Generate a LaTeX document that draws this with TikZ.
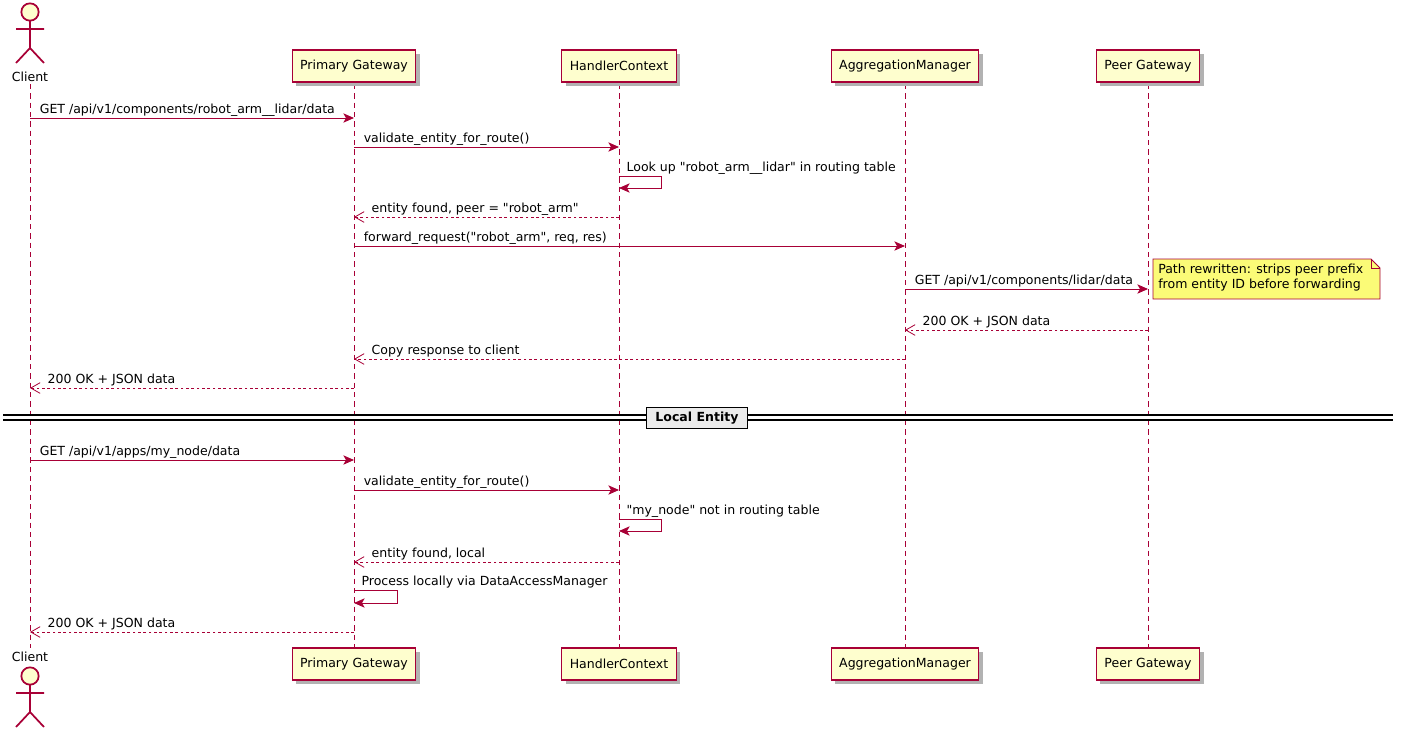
\documentclass[tikz,border=0pt]{standalone}
\usepackage{fontspec}
\setmainfont{DejaVu Sans}[Ligatures=TeXOff]
\usetikzlibrary{arrows.meta,shadows}
\definecolor{pr}{HTML}{A80036}
\definecolor{bx}{HTML}{FEFECE}
\definecolor{nt}{HTML}{FBFB77}
\newcommand{\qq}{\symbol{34}}
\begin{document}
\begin{tikzpicture}[x=0.75pt,y=-0.75pt,
  font=\fontsize{9.4}{11}\selectfont,
  part/.style={draw=pr,fill=bx,line width=0.8pt,minimum height=24pt,inner xsep=6pt,drop shadow={shadow xshift=3pt,shadow yshift=-3pt,fill=black!30,opacity=1}},
  life/.style={draw=pr,line width=0.5pt,dash pattern=on 4pt off 3pt},
  msg/.style={draw=pr,line width=0.7pt,-{Stealth[length=8pt,width=7pt,inset=2pt]}},
  ret/.style={draw=pr,line width=0.6pt,dash pattern=on 2pt off 2pt,-{Straight Barb[length=7pt,width=8pt]}},
  lbl/.style={anchor=south west,inner sep=1pt}]
\useasboundingbox (0,0) rectangle (1403,736);
% lifelines
\foreach \x in {30,354,619,905,1148} \draw[life] (\x,84) -- (\x,648);
% participant boxes
\foreach \y/\s in {66/t,664/b}{
\node[part] (pg\s) at (354,\y) {Primary Gateway};
\node[part] (hc\s) at (619,\y) {HandlerContext};
\node[part] (am\s) at (905,\y) {AggregationManager};
\node[part] (pe\s) at (1148,\y) {Peer Gateway};}
% actors
\tikzset{actor/.pic={
 \draw[pr,fill=bx,line width=1.3pt] (0,0) circle (6.5pt);
 \draw[pr,line width=1.3pt] (0,9) -- (0,36) (-14,17) -- (14,17) (-14,51) -- (0,36) -- (14,51);}}
\pic at (30,12) {actor};
\pic at (30,676) {actor};
\node (ct) at (30,77) {Client};
\node (cb) at (30,657) {Client};
% coordinates
\foreach \n/\x in {c/30,p/354,h/619,a/905,g/1148}{
 \foreach \y in {118,147,176,188,217,246,289,330,359,388,460,490,519,531,562,590,603,632}{
  \coordinate (\n\y) at (\x,\y);}}
\coordinate (hs1) at (661,176); \coordinate (hs2) at (661,188);
\coordinate (hs3) at (661,519); \coordinate (hs4) at (661,531);
\coordinate (ps1) at (397,590); \coordinate (ps2) at (397,603);
% messages
\draw[msg] (c118) -- node[lbl,pos=0,xshift=6pt] {GET /api/v1/components/robot\_arm\_\_lidar/data} (p118);
\draw[msg] (p147) -- node[lbl,pos=0,xshift=6pt] {validate\_entity\_for\_route()} (h147);
\draw[msg] (h176) -- (hs1) -- (hs2) -- (h188);
\node[lbl] at (625,176) {Look up \qq robot\_arm\_\_lidar\qq{} in routing table};
\draw[ret] (h217) -- node[lbl,pos=1,xshift=12pt] {entity found, peer = \qq robot\_arm\qq} (p217);
\draw[msg] (p246) -- node[lbl,pos=0,xshift=6pt] {forward\_request(\qq robot\_arm\qq, req, res)} (a246);
\draw[msg] (a289) -- node[lbl,pos=0,xshift=6pt] {GET /api/v1/components/lidar/data} (g289);
\draw[ret] (g330) -- node[lbl,pos=1,xshift=12pt] {200 OK + JSON data} (a330);
\draw[ret] (a359) -- node[lbl,pos=1,xshift=12pt] {Copy response to client} (p359);
\draw[ret] (p388) -- node[lbl,pos=1,xshift=12pt] {200 OK + JSON data} (c388);
% note
\draw[pr,fill=nt,line width=0.6pt] (1153,259) -- (1371,259) -- (1380,268) -- (1380,299) -- (1153,299) -- cycle;
\draw[pr,line width=0.6pt] (1371,259) -- (1371,268) -- (1380,268);
\node[anchor=north west,inner sep=0pt,align=left] (note) at (1158,264) {Path rewritten: strips peer prefix\\from entity ID before forwarding};
% divider
\draw[line width=0.8pt] (3,415) -- (1393,415) (3,420) -- (1393,420);
\node[draw,line width=0.9pt,fill=black!8,font=\fontsize{9.4}{11}\selectfont\bfseries,minimum height=15pt,inner xsep=7pt] (div) at (697,418) {Local Entity};
% second part
\draw[msg] (c460) -- node[lbl,pos=0,xshift=6pt] {GET /api/v1/apps/my\_node/data} (p460);
\draw[msg] (p490) -- node[lbl,pos=0,xshift=6pt] {validate\_entity\_for\_route()} (h490);
\draw[msg] (h519) -- (hs3) -- (hs4) -- (h531);
\node[lbl] at (625,519) {\qq my\_node\qq{} not in routing table};
\draw[ret] (h562) -- node[lbl,pos=1,xshift=12pt] {entity found, local} (p562);
\draw[msg] (p590) -- (ps1) -- (ps2) -- (p603);
\node[lbl] at (360,590) {Process locally via DataAccessManager};
\draw[ret] (p632) -- node[lbl,pos=1,xshift=12pt] {200 OK + JSON data} (c632);
\end{tikzpicture}
\end{document}
